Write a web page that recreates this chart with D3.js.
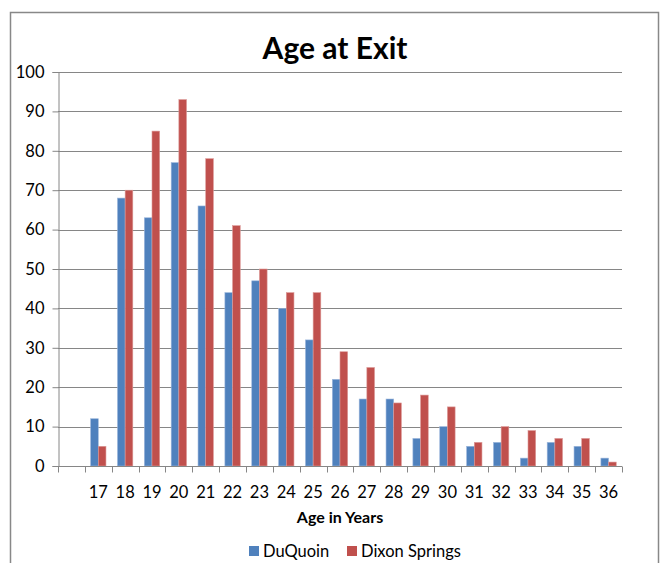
<!DOCTYPE html>
<html>
<head>
<meta charset="utf-8">
<script src="https://cdn.jsdelivr.net/npm/d3@7"></script>
<style>
body { margin: 0; background: #fff; }
svg text { font-family: Lato, "Open Sans", sans-serif; fill: #000; }
</style>
</head>
<body>
<div id="viz"></div>
<script>
// data
var ages = ['', '17', '18', '19', '20', '21', '22', '23', '24', '25', '26', '27', '28', '29', '30', '31', '32', '33', '34', '35', '36'];
var duquoin = [null, 12, 68, 63, 77, 66, 44, 47, 40, 32, 22, 17, 17, 7, 10, 5, 6, 2, 6, 5, 2];
var dixon   = [null, 5, 70, 85, 93, 78, 61, 50, 44, 44, 29, 25, 16, 18, 15, 6, 10, 9, 7, 7, 1];
var seriesNames = ['DuQuoin', 'Dixon Springs'];
var colors = ['#4F81BD', '#C0504D'];
var yTicks = [0, 10, 20, 30, 40, 50, 60, 70, 80, 90, 100];

var W = 663, H = 563;
var plot = {left: 58, right: 622, top: 72, bottom: 466};

var svg = d3.select('#viz').append('svg')
    .attr('width', W)
    .attr('height', H);

// chart frame
svg.append('rect')
    .attr('x', 10.5).attr('y', 12.5)
    .attr('width', 648).attr('height', 560)
    .style('fill', 'none')
    .style('stroke', '#888')
    .style('stroke-width', 1.5);

var x = d3.scaleBand()
    .domain(ages)
    .range([plot.left, plot.right])
    .paddingInner(0).paddingOuter(0);

var y = d3.scaleLinear()
    .domain([0, 100])
    .range([plot.bottom, plot.top]);

// gridlines
svg.append('g').selectAll('line')
    .data(yTicks.slice(1))
    .enter().append('line')
    .attr('x1', plot.left).attr('x2', plot.right)
    .attr('y1', function(d){ return Math.round(y(d)) + 0.5; })
    .attr('y2', function(d){ return Math.round(y(d)) + 0.5; })
    .style('stroke', '#868686')
    .style('stroke-width', 1.2);

// bars, gap width 150%
var groupW = x.bandwidth() * 2 / 3.5;
var x1 = d3.scaleBand()
    .domain([0, 1])
    .range([(x.bandwidth() - groupW) / 2, (x.bandwidth() + groupW) / 2]);

[duquoin, dixon].forEach(function(vals, s){
    svg.append('g').selectAll('rect')
        .data(vals.map(function(v, i){ return {age: ages[i], v: v}; })
              .filter(function(d){ return d.v != null; }))
        .enter().append('rect')
        .attr('x', function(d){ return x(d.age) + x1(s); })
        .attr('width', x1.bandwidth())
        .attr('y', function(d){ return y(d.v); })
        .attr('height', function(d){ return y(0) - y(d.v); })
        .style('fill', colors[s])
        .style('stroke', s == 0 ? '#9db7dc' : '#dc9a98')
        .style('stroke-width', 0.6);
});

// y axis
var yAxis = d3.axisLeft(y)
    .tickValues(yTicks)
    .tickSize(6)
    .tickPadding(8);
var gy = svg.append('g')
    .attr('transform', 'translate(' + (plot.left + 0.5) + ',0)')
    .call(yAxis);
gy.select('.domain').style('stroke', '#868686');
gy.selectAll('.tick line').style('stroke', '#868686');
gy.selectAll('text').style('font-size', '16.5px').style('font-family', 'Lato, sans-serif');

// x axis: ticks sit between categories
var gx = svg.append('g')
    .attr('transform', 'translate(0,' + (plot.bottom + 0.5) + ')');
gx.append('line')
    .attr('x1', plot.left).attr('x2', plot.right)
    .style('stroke', '#868686');
gx.selectAll('.xt')
    .data(ages.concat(['end']))
    .enter().append('line')
    .attr('class', 'xt')
    .attr('x1', function(d, i){ return Math.round(plot.left + i * x.step()) + 0.5; })
    .attr('x2', function(d, i){ return Math.round(plot.left + i * x.step()) + 0.5; })
    .attr('y1', 0).attr('y2', 6)
    .style('stroke', '#868686');
gx.selectAll('text')
    .data(ages)
    .enter().append('text')
    .attr('x', function(d){ return x(d) + x.bandwidth() / 2; })
    .attr('y', 31)
    .attr('text-anchor', 'middle')
    .style('font-size', '16.5px')
    .text(function(d){ return d; });

// titles
svg.append('text')
    .attr('x', 335).attr('y', 59)
    .attr('text-anchor', 'middle')
    .style('font-size', '30px')
    .style('font-weight', 'bold')
    .text('Age at Exit');

svg.append('text')
    .attr('x', 340).attr('y', 523)
    .attr('text-anchor', 'middle')
    .style('font-size', '16px')
    .style('font-weight', 'bold')
    .text('Age in Years');

// legend
var legX = [249, 347];
var leg = svg.append('g').selectAll('g')
    .data(seriesNames)
    .enter().append('g')
    .attr('transform', function(d, i){ return 'translate(' + legX[i] + ',546)'; });
leg.append('rect')
    .attr('width', 10).attr('height', 10)
    .style('fill', function(d, i){ return colors[i]; });
leg.append('text')
    .attr('x', 14).attr('y', 11)
    .style('font-size', '16.5px')
    .text(function(d){ return d; });
</script>
</body>
</html>
